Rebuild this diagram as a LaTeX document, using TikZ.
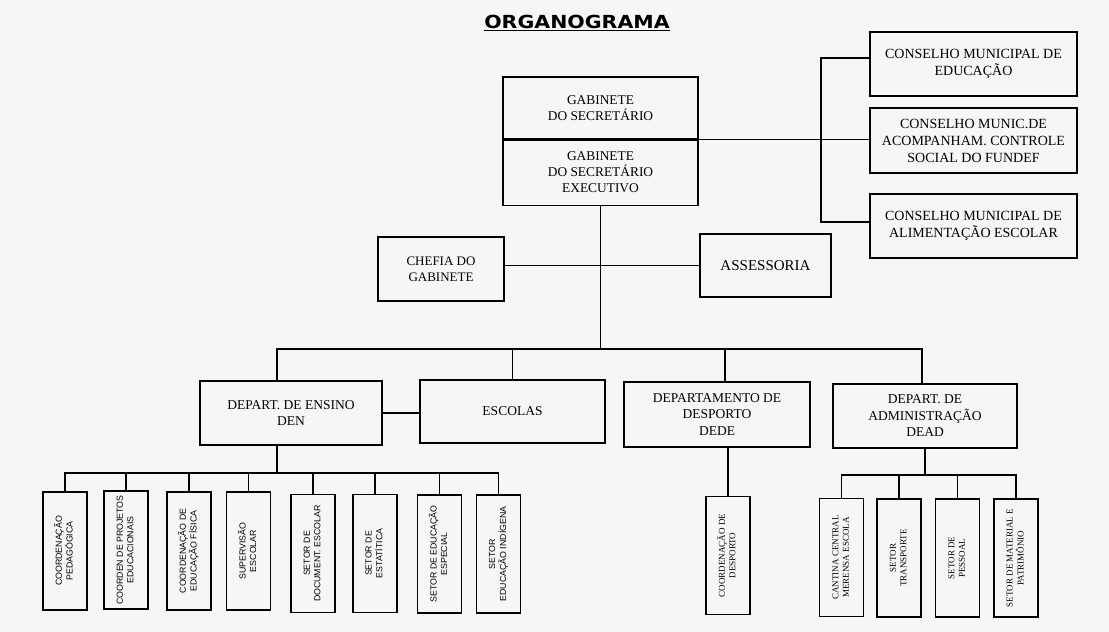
\documentclass[tikz,border=0pt]{standalone}
\usepackage{fontspec}
\usepackage{graphicx}
\setmainfont{Liberation Serif}
\setsansfont{Liberation Sans}
\newfontfamily\titlefont[FakeStretch=1.14]{DejaVu Sans}

\newcommand{\fsize}[2]{\fontsize{#1}{#2}\selectfont}
\newcommand{\vlabel}[1]{\rotatebox{90}{\begin{tabular}{@{}c@{}}#1\end{tabular}}}

\begin{document}
\begin{tikzpicture}[
                    x=1pt,
                    y=-1pt,
                    line width=1.1pt,
                    font=\fsize{13.5}{16.5}
                ]
                \tikzstyle{box}=[
                    draw=black,
                    align=center,
                    inner sep=2pt
                ]
                \tikzstyle{vbox}=[
                    draw=black,
                    minimum width=44,
                    minimum height=118,
                    inner sep=0pt,
                    font=\fsize{9}{10.5}
                ]
                \tikzstyle{vsans}=[
                    vbox,
                    font=\sffamily\fsize{8.8}{10.5}
                ]

                \fill[gray!7] (0,0) rectangle (1109,632);
                \useasboundingbox (0,0) rectangle (1109,632);

                \node[font=\titlefont\bfseries\fsize{18}{20}] (title) at (577,23)
                    {\underline{ORGANOGRAMA}};

                % cupula
                \node[box, minimum width=195, minimum height=62, font=\fsize{13.4}{16}] (gabsec) at (600.5,108)
                    {GABINETE\\DO SECRETÁRIO};
                \node[box, minimum width=195, minimum height=65, anchor=north, font=\fsize{13.4}{16}] (gabexe) at (gabsec.south)
                    {GABINETE\\DO SECRETÁRIO\\EXECUTIVO};

                % conselhos
                \node[box, minimum width=207, minimum height=64, font=\fsize{14}{17}] (cme) at (973.5,64)
                    {CONSELHO MUNICIPAL DE\\EDUCAÇÃO};
                \node[box, minimum width=207, minimum height=65, font=\fsize{14}{17}] (cma) at (973.5,140.5)
                    {CONSELHO MUNIC.DE\\ACOMPANHAM. CONTROLE\\SOCIAL DO FUNDEF};
                \node[box, minimum width=207, minimum height=64, font=\fsize{14}{17}] (cmae) at (973.5,226)
                    {CONSELHO MUNICIPAL DE\\ALIMENTAÇÃO ESCOLAR};
                \coordinate (brace) at (821,140);

                \node[box, minimum width=126, minimum height=64, font=\fsize{13}{16}] (chefia) at (441,269)
                    {CHEFIA DO\\GABINETE};
                \node[box, minimum width=131, minimum height=63, font=\fsize{15}{18}] (assess) at (765.5,265.5)
                    {ASSESSORIA};

                % departamentos
                \coordinate (busl) at (277,349);
                \coordinate (busr) at (922,349);
                \node[box, minimum width=182, minimum height=64] (den) at (291,413)
                    {DEPART. DE ENSINO\\DEN};
                \node[box, minimum width=185, minimum height=63] (escolas) at (512.5,411.5)
                    {ESCOLAS};
                \node[box, minimum width=186, minimum height=65] (dede) at (717,414.5)
                    {DEPARTAMENTO DE\\DESPORTO\\DEDE};
                \node[box, minimum width=184, minimum height=64] (dead) at (925,416)
                    {DEPART. DE\\ADMINISTRAÇÃO\\DEAD};

                % setores do DEN
                \coordinate (denbus) at (277,473);
                \node[vsans] (c1) at (65,551) {\vlabel{COORDENAÇÃO\\PEDAGÓGICA}};
                \node[vsans] (c2) at (126,550) {\vlabel{COORDEN DE PROJETOS\\EDUCACIONAIS}};
                \node[vsans] (c3) at (189,551) {\vlabel{COORDENAÇÃO DE\\EDUCAÇÃO FÍSICA}};
                \node[vsans] (c4) at (248.5,551) {\vlabel{SUPERVISÃO\\ESCOLAR}};
                \node[vsans] (c5) at (313,553.5) {\vlabel{SETOR DE\\DOCUMENT. ESCOLAR}};
                \node[vsans] (c6) at (375,553.5) {\vlabel{SETOR DE\\ESTATÍTICA}};
                \node[vsans] (c7) at (439.5,554) {\vlabel{SETOR DE EDUCAÇÃO\\ESPECIAL}};
                \node[vsans] (c8) at (498.5,554) {\vlabel{SETOR\\EDUCAÇÃO INDÍGENA}};

                % setores do DEDE e DEAD
                \node[vbox] (cdesp) at (728,555.5) {\vlabel{COORDENAÇÃO DE\\DESPORTO}};
                \coordinate (deadbus) at (923,475);
                \node[vbox] (d1) at (841.5,557.5) {\vlabel{CANTINA CENTRAL\\MERENSA ESCOLA}};
                \node[vbox] (d2) at (899,558) {\vlabel{SETOR\\TRANSPORTE}};
                \node[vbox] (d3) at (957.5,558) {\vlabel{SETOR DE\\PESSOAL}};
                \node[vbox] (d4) at (1016,558) {\vlabel{SETOR DE MATERIAL E\\PATRIMÔNIO}};

                % ligacoes
                \draw (gabsec.south east) -- (gabsec.south east -| cma.west);
                \draw ([yshift=6pt]cme.west) -| (brace) |- ([yshift=4pt]cmae.west);
                \draw (gabexe.south) -- (gabexe.south |- busl);
                \draw (assess.west) -- (assess.west -| chefia.east);
                \draw (busl |- den.north) -- (busl) -- (busr) -- (busr |- dead.north);
                \draw (escolas.north) -- (escolas.north |- busl);
                \draw ([xshift=8pt]dede.north) -- ([xshift=8pt]dede.north |- busl);
                \draw (den.east) -- (den.east -| escolas.west);

                \draw (busl |- den.south) -- (denbus);
                \draw (c1.north) |- (c8.north |- denbus) -- (c8.north);
                \draw (c2.north) -- (c2.north |- denbus);
                \draw (c3.north) -- (c3.north |- denbus);
                \draw (c4.north) -- (c4.north |- denbus);
                \draw (c5.north) -- (c5.north |- denbus);
                \draw (c6.north) -- (c6.north |- denbus);
                \draw (c7.north) -- (c7.north |- denbus);

                \draw (cdesp.north) -- (cdesp.north |- dede.south);

                \draw (dead.south) -- (dead.south |- deadbus);
                \draw (d1.north) |- (d4.north |- deadbus) -- (d4.north);
                \draw (d2.north) -- (d2.north |- deadbus);
                \draw (d3.north) -- (d3.north |- deadbus);
            \end{tikzpicture}
\end{document}
